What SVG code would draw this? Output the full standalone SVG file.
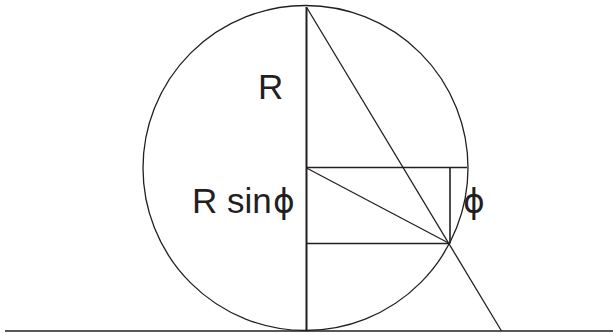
<svg xmlns="http://www.w3.org/2000/svg" width="613" height="333" viewBox="0 0 613 333">
<style>
.l{stroke:#231f20;stroke-width:1.3;fill:none}
.t{font-family:"Liberation Sans",Arial,sans-serif;font-size:35px;fill:#231f20}
.p{font-family:"DejaVu Sans",sans-serif;font-size:33px;fill:#231f20}
</style>
<rect width="613" height="333" fill="#fff"/>
<g id="connectors">
<line class="l" x1="5" y1="331" x2="613" y2="331" style="stroke-width:1.6"/>
<circle class="l" cx="305.5" cy="168" r="162.5"/>
<line class="l" x1="306.5" y1="7" x2="306.5" y2="331" style="stroke-width:2"/>
<line class="l" x1="306.5" y1="167.5" x2="467" y2="167.5"/>
<line class="l" x1="306.5" y1="243.5" x2="449.5" y2="243.5"/>
<line class="l" x1="450" y1="167.5" x2="450" y2="243.5" style="stroke-width:1.6"/>
<line class="l" x1="306.5" y1="168" x2="449.5" y2="243.5"/>
<line class="l" x1="307" y1="8" x2="501.5" y2="331"/>
</g>
<g id="label-R"><text class="t" x="258" y="98.5">R</text></g>
<g id="label-Rsin"><text class="t" x="192" y="212.5">R sin<tspan class="p" x="273">ϕ</tspan></text></g>
<g id="label-phi"><text class="p" x="463" y="213">ϕ</text></g>
</svg>
